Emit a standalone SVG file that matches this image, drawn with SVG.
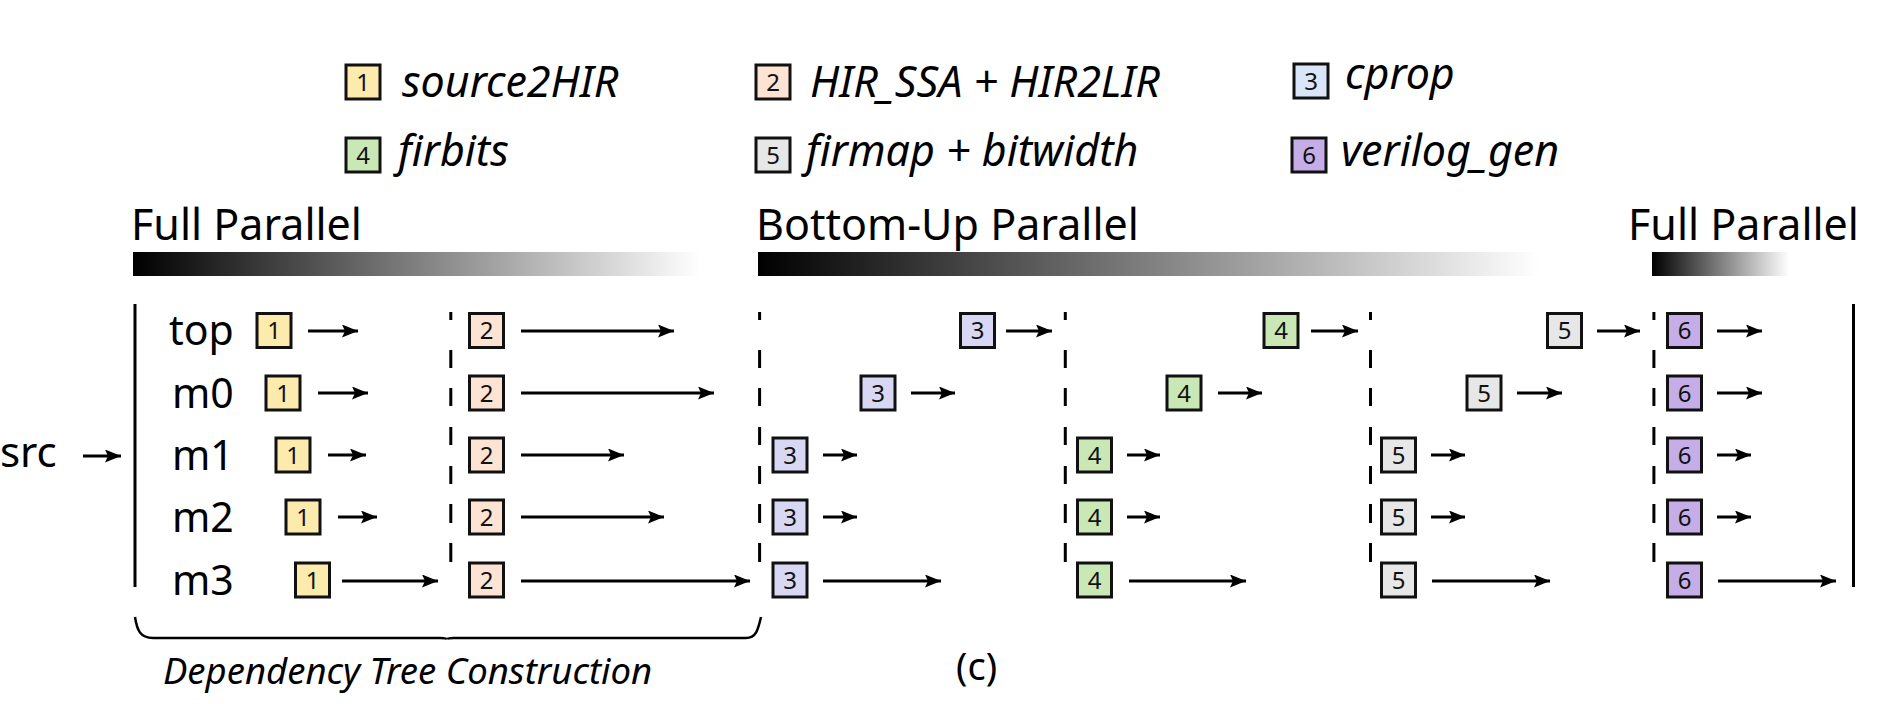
<svg xmlns="http://www.w3.org/2000/svg" width="1904" height="704" viewBox="0 0 1904 704">
<defs>
<style>
.bx{stroke:#111;stroke-width:3}
.c1{fill:#fcebac}.c2{fill:#fde3d4}.c3{fill:#d8d8f4}.c3l{fill:#dae6f8}.c4{fill:#c9e8b5}.c5{fill:#e7e7e7}.c6{fill:#c5aee8}
.d{font-family:"Noto Sans","Open Sans",sans-serif;font-size:24px;text-anchor:middle;fill:#111}
.lbl{font-family:"Noto Sans","Open Sans",sans-serif;font-size:41px;fill:#000}
.hd{font-family:"Noto Sans","Open Sans",sans-serif;font-size:43px;fill:#000}
.lg{font-family:"Noto Sans","Open Sans",sans-serif;font-style:italic;font-size:43px;fill:#000}
.ar{stroke:#000;stroke-width:3;fill:none;marker-end:url(#ah)}
.sl{stroke:#000;stroke-width:3;fill:none}
.ds{stroke:#000;stroke-width:3;fill:none}
</style>
<marker id="ah" markerUnits="userSpaceOnUse" markerWidth="18" markerHeight="14" refX="16" refY="6.5" orient="auto">
<path d="M0,0 L16,6.5 L0,13 L3,6.5 z" fill="#000"/>
</marker>
<linearGradient id="gr" x1="0" y1="0" x2="1" y2="0">
<stop offset="0" stop-color="#000"/>
<stop offset="1" stop-color="#fff"/>
</linearGradient>
</defs>
<rect width="1904" height="704" fill="#fff"/>

<g id="legend">
<g id="leg1"><rect class="bx c1" x="346" y="65" width="34" height="34"/><text class="d" x="363" y="90.5">1</text><text class="lg" x="402" y="97">source2HIR</text></g>
<g id="leg2"><rect class="bx c2" x="756" y="65" width="34" height="34"/><text class="d" x="773" y="90.5">2</text><text class="lg" x="810" y="97">HIR_SSA + HIR2LIR</text></g>
<g id="leg3"><rect class="bx c3l" x="1294" y="64" width="34" height="34"/><text class="d" x="1311" y="89.5">3</text><text class="lg" x="1345" y="89">cprop</text></g>
<g id="leg4"><rect class="bx c4" x="346" y="138" width="34" height="34"/><text class="d" x="363" y="163.5">4</text><text class="lg" x="398" y="166">firbits</text></g>
<g id="leg5"><rect class="bx c5" x="756" y="138" width="34" height="34"/><text class="d" x="773" y="163.5">5</text><text class="lg" x="806" y="166">firmap + bitwidth</text></g>
<g id="leg6"><rect class="bx c6" x="1292" y="138" width="34" height="34"/><text class="d" x="1309" y="163.5">6</text><text class="lg" x="1341" y="166">verilog_gen</text></g>
</g>

<g id="phases">
<g id="ph-full-left"><text class="hd" x="131" y="240">Full Parallel</text><rect x="133" y="252" width="567" height="24" fill="url(#gr)"/></g>
<g id="ph-bottomup"><text class="hd" x="756" y="240">Bottom-Up Parallel</text><rect x="758" y="252" width="781" height="24" fill="url(#gr)"/></g>
<g id="ph-full-right"><text class="hd" x="1628" y="240">Full Parallel</text><rect x="1652" y="252" width="137" height="24" fill="url(#gr)"/></g>
</g>

<g id="src"><text class="lbl" x="0" y="467" style="font-size:42px">src</text></g>

<g id="rowlabels">
<text class="lbl" x="169" y="345">top</text>
<text class="lbl" x="172" y="408">m0</text>
<text class="lbl" x="172" y="470">m1</text>
<text class="lbl" x="172" y="532">m2</text>
<text class="lbl" x="172" y="595">m3</text>
</g>

<g id="bars">
<line class="sl" x1="135" y1="304" x2="135" y2="587"/>
<line class="sl" x1="1853.5" y1="304" x2="1853.5" y2="587"/>
<path class="ds" d="M450.8 312V320M450.8 350V368M450.8 388V406M450.8 427V445M450.8 466V484M450.8 504V523M450.8 543V562"/>
<path class="ds" d="M759.6 312V320M759.6 350V368M759.6 388V406M759.6 427V445M759.6 466V484M759.6 504V523M759.6 543V562"/>
<path class="ds" d="M1065.3 312V320M1065.3 350V368M1065.3 388V406M1065.3 427V445M1065.3 466V484M1065.3 504V523M1065.3 543V562"/>
<path class="ds" d="M1370.5 312V320M1370.5 350V368M1370.5 388V406M1370.5 427V445M1370.5 466V484M1370.5 504V523M1370.5 543V562"/>
<path class="ds" d="M1653.9 312V320M1653.9 350V368M1653.9 388V406M1653.9 427V445M1653.9 466V484M1653.9 504V523M1653.9 543V562"/>
</g>

<g id="stage1">
<g id="s1-top"><rect class="bx c1" x="257" y="313.5" width="34" height="34"/><text class="d" x="274" y="339">1</text></g>
<g id="s1-m0"><rect class="bx c1" x="266" y="376" width="34" height="34"/><text class="d" x="283" y="401.5">1</text></g>
<g id="s1-m1"><rect class="bx c1" x="276" y="438" width="34" height="34"/><text class="d" x="293" y="463.5">1</text></g>
<g id="s1-m2"><rect class="bx c1" x="286" y="500" width="34" height="34"/><text class="d" x="303" y="525.5">1</text></g>
<g id="s1-m3"><rect class="bx c1" x="295.5" y="563" width="34" height="34"/><text class="d" x="312.5" y="588.5">1</text></g>
</g>

<g id="stage2">
<g id="s2-top"><rect class="bx c2" x="469.5" y="313.5" width="34" height="34"/><text class="d" x="486.5" y="339">2</text></g>
<g id="s2-m0"><rect class="bx c2" x="469.5" y="376" width="34" height="34"/><text class="d" x="486.5" y="401.5">2</text></g>
<g id="s2-m1"><rect class="bx c2" x="469.5" y="438" width="34" height="34"/><text class="d" x="486.5" y="463.5">2</text></g>
<g id="s2-m2"><rect class="bx c2" x="469.5" y="500" width="34" height="34"/><text class="d" x="486.5" y="525.5">2</text></g>
<g id="s2-m3"><rect class="bx c2" x="469.5" y="563" width="34" height="34"/><text class="d" x="486.5" y="588.5">2</text></g>
</g>

<g id="stage3">
<g id="s3-top"><rect class="bx c3" x="960.5" y="313.5" width="34" height="34"/><text class="d" x="977.5" y="339">3</text></g>
<g id="s3-m0"><rect class="bx c3" x="861" y="376" width="34" height="34"/><text class="d" x="878" y="401.5">3</text></g>
<g id="s3-m1"><rect class="bx c3" x="773" y="438" width="34" height="34"/><text class="d" x="790" y="463.5">3</text></g>
<g id="s3-m2"><rect class="bx c3" x="773" y="500" width="34" height="34"/><text class="d" x="790" y="525.5">3</text></g>
<g id="s3-m3"><rect class="bx c3" x="773" y="563" width="34" height="34"/><text class="d" x="790" y="588.5">3</text></g>
</g>

<g id="stage4">
<g id="s4-top"><rect class="bx c4" x="1264" y="313.5" width="34" height="34"/><text class="d" x="1281" y="339">4</text></g>
<g id="s4-m0"><rect class="bx c4" x="1167" y="376" width="34" height="34"/><text class="d" x="1184" y="401.5">4</text></g>
<g id="s4-m1"><rect class="bx c4" x="1077.5" y="438" width="34" height="34"/><text class="d" x="1094.5" y="463.5">4</text></g>
<g id="s4-m2"><rect class="bx c4" x="1077.5" y="500" width="34" height="34"/><text class="d" x="1094.5" y="525.5">4</text></g>
<g id="s4-m3"><rect class="bx c4" x="1077.5" y="563" width="34" height="34"/><text class="d" x="1094.5" y="588.5">4</text></g>
</g>

<g id="stage5">
<g id="s5-top"><rect class="bx c5" x="1547.5" y="313.5" width="34" height="34"/><text class="d" x="1564.5" y="339">5</text></g>
<g id="s5-m0"><rect class="bx c5" x="1467" y="376" width="34" height="34"/><text class="d" x="1484" y="401.5">5</text></g>
<g id="s5-m1"><rect class="bx c5" x="1381.5" y="438" width="34" height="34"/><text class="d" x="1398.5" y="463.5">5</text></g>
<g id="s5-m2"><rect class="bx c5" x="1381.5" y="500" width="34" height="34"/><text class="d" x="1398.5" y="525.5">5</text></g>
<g id="s5-m3"><rect class="bx c5" x="1381.5" y="563" width="34" height="34"/><text class="d" x="1398.5" y="588.5">5</text></g>
</g>

<g id="stage6">
<g id="s6-top"><rect class="bx c6" x="1667.5" y="313.5" width="34" height="34"/><text class="d" x="1684.5" y="339">6</text></g>
<g id="s6-m0"><rect class="bx c6" x="1667.5" y="376" width="34" height="34"/><text class="d" x="1684.5" y="401.5">6</text></g>
<g id="s6-m1"><rect class="bx c6" x="1667.5" y="438" width="34" height="34"/><text class="d" x="1684.5" y="463.5">6</text></g>
<g id="s6-m2"><rect class="bx c6" x="1667.5" y="500" width="34" height="34"/><text class="d" x="1684.5" y="525.5">6</text></g>
<g id="s6-m3"><rect class="bx c6" x="1667.5" y="563" width="34" height="34"/><text class="d" x="1684.5" y="588.5">6</text></g>
</g>

<g id="connectors">
<line class="ar" x1="83" y1="456" x2="121" y2="456"/>
<line class="ar" x1="308" y1="331" x2="358" y2="331"/>
<line class="ar" x1="318" y1="393" x2="368" y2="393"/>
<line class="ar" x1="328" y1="455" x2="366" y2="455"/>
<line class="ar" x1="338" y1="517" x2="377" y2="517"/>
<line class="ar" x1="342" y1="581" x2="438" y2="581"/>
<line class="ar" x1="521" y1="331" x2="674" y2="331"/>
<line class="ar" x1="521" y1="393" x2="714" y2="393"/>
<line class="ar" x1="521" y1="455" x2="624" y2="455"/>
<line class="ar" x1="521" y1="517" x2="664" y2="517"/>
<line class="ar" x1="521" y1="581" x2="750" y2="581"/>
<line class="ar" x1="1006" y1="331" x2="1052" y2="331"/>
<line class="ar" x1="911" y1="393" x2="955" y2="393"/>
<line class="ar" x1="823" y1="455" x2="857" y2="455"/>
<line class="ar" x1="823" y1="517" x2="857" y2="517"/>
<line class="ar" x1="823" y1="581" x2="941" y2="581"/>
<line class="ar" x1="1311" y1="331" x2="1358" y2="331"/>
<line class="ar" x1="1218" y1="393" x2="1262" y2="393"/>
<line class="ar" x1="1127" y1="455" x2="1160" y2="455"/>
<line class="ar" x1="1127" y1="517" x2="1160" y2="517"/>
<line class="ar" x1="1129" y1="581" x2="1246" y2="581"/>
<line class="ar" x1="1597" y1="331" x2="1640" y2="331"/>
<line class="ar" x1="1517" y1="393" x2="1562" y2="393"/>
<line class="ar" x1="1431" y1="455" x2="1465" y2="455"/>
<line class="ar" x1="1431" y1="517" x2="1465" y2="517"/>
<line class="ar" x1="1432" y1="581" x2="1550" y2="581"/>
<line class="ar" x1="1717" y1="331" x2="1762" y2="331"/>
<line class="ar" x1="1717" y1="393" x2="1762" y2="393"/>
<line class="ar" x1="1717" y1="455" x2="1751" y2="455"/>
<line class="ar" x1="1717" y1="517" x2="1751" y2="517"/>
<line class="ar" x1="1718" y1="581" x2="1836" y2="581"/>
</g>

<g id="brace">
<path class="sl" style="stroke-width:2.5" d="M135 617 C137 630 140 638 153 638 L440 638 Q447 638 447 639.5 Q447 638 454 638 L746 638 C756 638 758 630 761 617"/>
<text class="lg" x="163" y="684" style="font-size:36.5px">Dependency Tree Construction</text>
</g>

<g id="caption"><text class="lbl" x="956" y="680" style="font-size:38px">(c)</text></g>
</svg>
